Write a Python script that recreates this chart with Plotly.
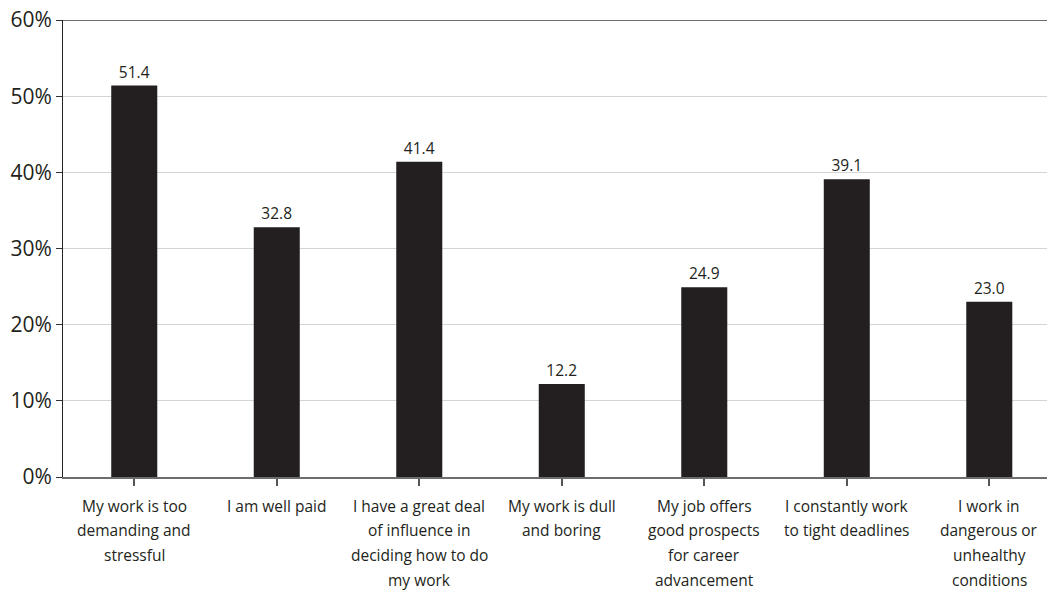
import plotly.graph_objects as go

categories = [
    "My work is too<br>demanding and<br>stressful",
    "I am well paid",
    "I have a great deal<br>of influence in<br>deciding how to do<br>my work",
    "My work is dull<br>and boring",
    "My job offers<br>good prospects<br>for career<br>advancement",
    "I constantly work<br>to tight deadlines",
    "I work in<br>dangerous or<br>unhealthy<br>conditions",
]
values = [51.4, 32.8, 41.4, 12.2, 24.9, 39.1, 23.0]
y_ticks = [0, 10, 20, 30, 40, 50, 60]
y_tick_labels = ["0%", "10%", "20%", "30%", "40%", "50%", "60%"]

FONT = "Open Sans"
INK = "#231f20"

x = list(range(len(categories)))

fig = go.Figure(
    go.Bar(
        x=x,
        y=values,
        width=0.323,
        marker=dict(color=INK, line=dict(width=0)),
        text=[f"{v:.1f}" for v in values],
        textposition="outside",
        textfont=dict(family=FONT, size=15.5, color=INK),
        cliponaxis=False,
    )
)

# Multi-line category labels, one annotation per line for wider line spacing
annotations = []
for i, label in enumerate(categories):
    for j, line in enumerate(label.split("<br>")):
        annotations.append(
            dict(
                x=i, y=0, xref="x", yref="y",
                text=line, showarrow=False,
                xanchor="center", yanchor="middle",
                yshift=-28.5 - 24.8 * j,
                font=dict(family=FONT, size=15.5, color=INK),
            )
        )

fig.update_layout(
    width=1047,
    height=591,
    margin=dict(l=63, r=0, t=20, b=114),
    paper_bgcolor="white",
    plot_bgcolor="white",
    showlegend=False,
    bargap=0.677,
    annotations=annotations,
    shapes=[
        dict(type="line", xref="paper", yref="y", x0=0, x1=1, y0=60, y1=60,
             line=dict(color="#6d6d6d", width=2), layer="above"),
    ],
    xaxis=dict(
        range=[-0.5, 6.405],
        tickmode="array",
        tickvals=x,
        showticklabels=False,
        tickson="boundaries",
        ticks="outside",
        ticklen=7,
        tickwidth=1.5,
        tickcolor="#555555",
        showline=True,
        linecolor="#6d6d6d",
        linewidth=2,
        showgrid=False,
        zeroline=False,
        fixedrange=True,
    ),
    yaxis=dict(
        range=[0, 60],
        tickmode="array",
        tickvals=y_ticks,
        ticktext=y_tick_labels,
        ticks="outside",
        ticklen=6,
        tickcolor="#333333",
        tickfont=dict(family=FONT, size=21, color=INK),
        showline=True,
        linecolor="#222222",
        linewidth=1,
        showgrid=True,
        gridcolor="#d4d4d4",
        gridwidth=1,
        zeroline=False,
        fixedrange=True,
    ),
)

fig.write_html("out.html")
